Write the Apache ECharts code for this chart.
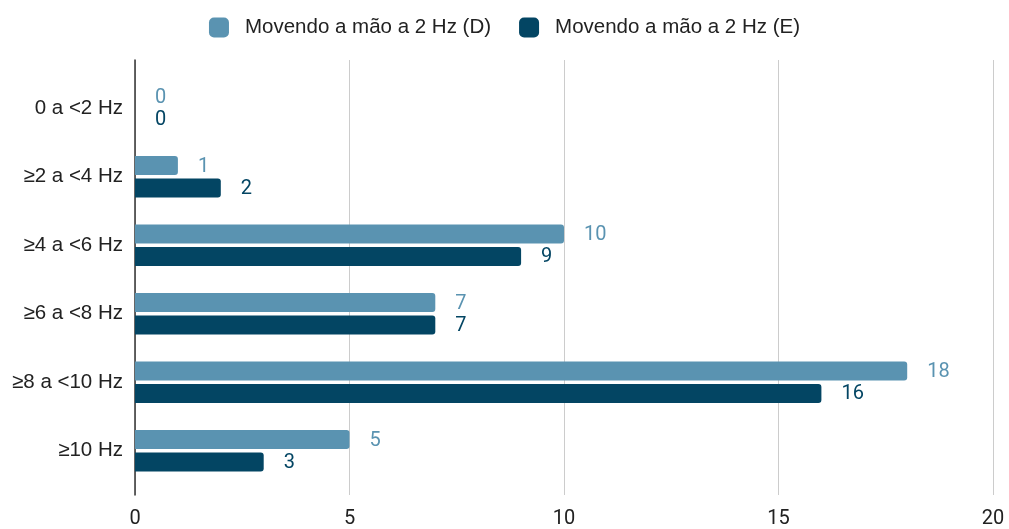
<!DOCTYPE html>
<html>
<head>
<meta charset="utf-8">
<script src="https://cdn.jsdelivr.net/npm/echarts@6/dist/echarts.min.js"></script>
<style>
  html, body { margin: 0; padding: 0; background: #fff; }
  #chart { width: 1009px; height: 529px; }
</style>
</head>
<body>
<div id="chart"></div>
<script>
const categorias = ['0 a <2 Hz', '≥2 a <4 Hz', '≥4 a <6 Hz', '≥6 a <8 Hz', '≥8 a <10 Hz', '≥10 Hz'];
const nomeD = 'Movendo a mão a 2 Hz (D)';
const nomeE = 'Movendo a mão a 2 Hz (E)';
const valoresD = [0, 1, 10, 7, 18, 5];
const valoresE = [0, 2, 9, 7, 16, 3];
const eixoMin = 0;
const eixoMax = 20;
const eixoPasso = 5;

const corD = '#5a93b1';
const corE = '#034563';

const myChart = echarts.init(document.getElementById('chart'));

let option = {
  animation: false,
  legend: {
    top: 12,
    left: 'center',
    icon: 'roundRect',
    itemWidth: 20,
    itemHeight: 20,
    itemGap: 28,
    data: [nomeD, nomeE],
    textStyle: {
      fontFamily: 'Liberation Sans',
      fontSize: 20.5,
      color: '#222',
      padding: [0, 0, 0, 11]
    }
  },
  grid: [
    // grade das barras
    { left: 135, right: 16, top: 74, bottom: 44 },
    // grade de fundo (linhas verticais mais longas)
    { left: 135, right: 16, top: 60, bottom: 32 }
  ],
  xAxis: [
    { gridIndex: 0, type: 'value', min: eixoMin, max: eixoMax, interval: eixoPasso, show: false },
    {
      gridIndex: 1,
      type: 'value',
      min: eixoMin,
      max: eixoMax,
      interval: eixoPasso,
      axisLine: { show: false },
      axisTick: { show: false },
      splitLine: { lineStyle: { color: '#cccccc', width: 1 } },
      axisLabel: {
        margin: 14,
        fontFamily: 'Roboto',
        fontSize: 20,
        color: '#222'
      }
    }
  ],
  yAxis: [
    {
      gridIndex: 0,
      type: 'category',
      inverse: true,
      data: categorias,
      axisLine: { show: false },
      axisTick: { show: false },
      axisLabel: {
        margin: 12,
        fontFamily: 'Liberation Sans',
        fontSize: 20.5,
        color: '#222'
      }
    },
    {
      gridIndex: 1,
      type: 'value',
      min: 0,
      max: 1,
      axisLine: { show: true, lineStyle: { color: '#333', width: 1.5 } },
      axisTick: { show: false },
      axisLabel: { show: false },
      splitLine: { show: false }
    }
  ],
  series: [
    {
      name: nomeD,
      type: 'bar',
      xAxisIndex: 0,
      yAxisIndex: 0,
      data: valoresD,
      barWidth: 19,
      barGap: '18%',
      itemStyle: { color: corD, borderRadius: [0, 3, 3, 0] },
      label: {
        show: true,
        position: 'right',
        distance: 20,
        offset: [0, 1],
        fontFamily: 'Roboto',
        fontSize: 20,
        color: corD
      }
    },
    {
      name: nomeE,
      type: 'bar',
      xAxisIndex: 0,
      yAxisIndex: 0,
      data: valoresE,
      barWidth: 19,
      barGap: '18%',
      itemStyle: { color: corE, borderRadius: [0, 3, 3, 0] },
      label: {
        show: true,
        position: 'right',
        distance: 20,
        offset: [0, 1],
        fontFamily: 'Roboto',
        fontSize: 20,
        color: corE
      }
    }
  ]
};

myChart.setOption(option);
</script>
</body>
</html>
